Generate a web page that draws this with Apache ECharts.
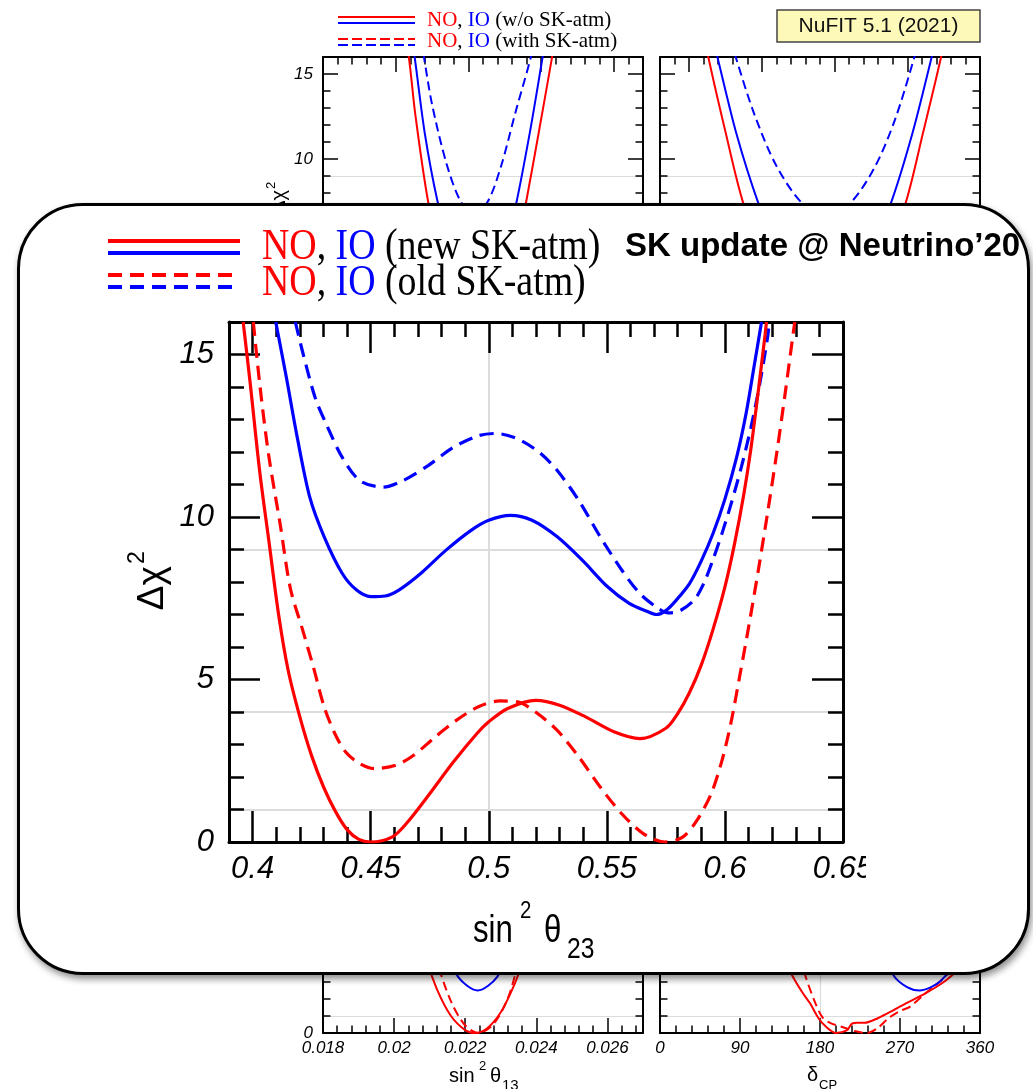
<!DOCTYPE html>
<html>
<head>
<meta charset="utf-8">
<script src="https://cdn.jsdelivr.net/npm/echarts@6/dist/echarts.min.js"></script>
<style>
  html, body { margin: 0; padding: 0; background: #fff; }
  #page { position: relative; width: 1033px; height: 1089px; overflow: hidden; }
  #back, #main { position: absolute; left: 0; top: 0; width: 1033px; height: 1089px; }
  #back { z-index: 0; }
  #box {
    position: absolute; left: 17px; top: 203px; width: 1013px; height: 772px;
    box-sizing: border-box; border: 3px solid #000; border-radius: 66px;
    background: #fff; box-shadow: 2px 4px 7px rgba(0, 0, 0, 0.45); z-index: 1;
  }
  #main { z-index: 2; }
</style>
</head>
<body>
<div id="page">
  <div id="back"></div>
  <div id="box"></div>
  <div id="main"></div>
</div>
<script>
// ---- main panel: delta chi^2 vs sin^2 theta23 ----
const mainXTicks = [0.4, 0.45, 0.5, 0.55, 0.6, 0.65];
const mainYTicks = [0, 5, 10, 15];
const chiGrid = [1, 4, 9];

// NO, new SK-atm (red solid)
const noNew = [[0.396, 16.0], [0.399, 14.1], [0.403, 11.4], [0.407, 9.2], [0.411, 7.0], [0.415, 5.3],
  [0.420, 3.85], [0.425, 2.65], [0.430, 1.7], [0.435, 0.95], [0.440, 0.38], [0.445, 0.08], [0.450, 0.0],
  [0.459, 0.15], [0.465, 0.56], [0.474, 1.39], [0.485, 2.46], [0.495, 3.34], [0.500, 3.70],
  [0.508, 4.11], [0.520, 4.36], [0.530, 4.21], [0.541, 3.85], [0.553, 3.39], [0.564, 3.18],
  [0.575, 3.5], [0.580, 3.95], [0.585, 4.6], [0.590, 5.45], [0.595, 6.55], [0.600, 7.85],
  [0.604, 9.15], [0.608, 10.7], [0.611, 12.1], [0.614, 13.8], [0.617, 15.6], [0.6176, 16.0]];
// NO, old SK-atm (red dashed)
const noOld = [[0.4003, 16.0], [0.403, 14.1], [0.4067, 11.95], [0.4117, 9.76], [0.416, 7.8], [0.4212, 6.52],
  [0.4257, 5.39], [0.4303, 4.16], [0.4348, 3.34], [0.4394, 2.77], [0.4454, 2.41], [0.4515, 2.26],
  [0.4606, 2.36], [0.4682, 2.67], [0.4773, 3.23], [0.4864, 3.75], [0.4956, 4.16], [0.5047, 4.34],
  [0.5123, 4.31], [0.5198, 4.0], [0.5289, 3.44], [0.5381, 2.62], [0.5472, 1.69], [0.5563, 0.87],
  [0.5654, 0.26], [0.5745, 0.0], [0.5821, 0.15], [0.5882, 0.67], [0.5942, 1.49], [0.5988, 2.52],
  [0.6025, 3.65], [0.606, 5.0], [0.610, 6.6], [0.614, 8.3], [0.618, 10.1], [0.622, 12.0],
  [0.6255, 13.8], [0.629, 15.7], [0.6296, 16.0]];
// IO, new SK-atm (blue solid)
const ioNew = [[0.4098, 16.0], [0.4143, 14.29], [0.4189, 12.45], [0.4242, 10.61], [0.4303, 9.39],
  [0.4379, 8.27], [0.4439, 7.76], [0.450, 7.55], [0.4561, 7.57], [0.4621, 7.76], [0.4713, 8.27],
  [0.4819, 8.98], [0.4925, 9.59], [0.500, 9.9], [0.5092, 10.05], [0.5183, 9.9], [0.529, 9.39],
  [0.5396, 8.67], [0.5502, 7.86], [0.5593, 7.35], [0.5669, 7.1], [0.571, 7.0], [0.575, 7.12],
  [0.5795, 7.45], [0.585, 7.95], [0.590, 8.65], [0.595, 9.5], [0.600, 10.55], [0.605, 11.85],
  [0.609, 13.2], [0.6125, 14.7], [0.6155, 16.0]];
// IO, old SK-atm (blue dashed)
const ioOld = [[0.4181, 16.0], [0.4211, 15.1], [0.4265, 13.67], [0.4318, 12.76], [0.4379, 11.84],
  [0.4454, 11.12], [0.4553, 10.92], [0.4637, 11.12], [0.4743, 11.58], [0.4849, 12.14], [0.4956, 12.5],
  [0.5031, 12.57], [0.5123, 12.4], [0.5214, 11.99], [0.529, 11.43], [0.5381, 10.51], [0.5472, 9.39],
  [0.5563, 8.37], [0.5639, 7.65], [0.5715, 7.2], [0.576, 7.05], [0.5806, 7.1], [0.587, 7.45],
  [0.591, 7.95], [0.595, 8.7], [0.599, 9.55], [0.603, 10.5], [0.607, 11.55], [0.611, 12.75],
  [0.6145, 14.0], [0.618, 15.5], [0.6188, 16.0]];

// ---- background panels (NuFIT 5.1 figure) ----
const bgYTicks = [0, 5, 10, 15];
const tlXTicks = [0, 1, 2, 3, 4];
const trXTicks = [0.4, 1.4, 2.4, 3.4, 4.4];
const blXTicks = [0.018, 0.02, 0.022, 0.024, 0.026];
const brXTicks = [0, 90, 180, 270, 360];

const tlNO = [[1.12, 17.2], [1.18, 16.0], [1.27, 12.6], [1.45, 7.4], [1.65, 4.0], [1.87, 1.2], [2.14, 0],
  [2.41, 1.2], [2.63, 4.0], [2.79, 7.4], [3.01, 12.6], [3.15, 16.0], [3.2, 17.2]];
const tlIO = [[1.22, 17.0], [1.26, 16.0], [1.40, 11.5], [1.57, 7.6], [1.75, 4.7], [1.95, 2.75], [2.12, 2.23],
  [2.30, 2.8], [2.50, 4.8], [2.65, 7.25], [2.85, 11.7], [3.02, 16.0], [3.06, 17.0]];
const tlIOOld = [[1.35, 17.0], [1.388, 16.0], [1.5, 13.2], [1.7, 9.7], [1.9, 7.45], [2.08, 6.9],
  [2.26, 7.45], [2.45, 9.6], [2.65, 12.8], [2.859, 16.0], [2.9, 17.0]];

const trNO = [[0.60, 17.5], [0.664, 16.0], [0.90, 11.6], [1.146, 7.39], [1.45, 4.1], [1.8, 1.3], [2.26, 0],
  [2.72, 1.3], [3.07, 4.1], [3.376, 7.39], [3.62, 11.6], [3.865, 16.0], [3.92, 17.3]];
const trIO = [[0.73, 17.0], [0.789, 16.0], [1.05, 11.5], [1.353, 7.39], [1.6, 4.85], [1.9, 2.9], [2.26, 2.06],
  [2.62, 2.9], [2.92, 4.85], [3.174, 7.39], [3.47, 11.5], [3.736, 16.0], [3.79, 17.0]];
const trIOOld = [[0.98, 17.0], [1.041, 16.0], [1.3, 12.6], [1.6, 9.6], [1.957, 7.39], [2.28, 6.73],
  [2.611, 7.39], [2.95, 9.5], [3.23, 12.3], [3.498, 16.0], [3.55, 17.0]];

const blNO = [[0.0206, 6.0], [0.0208, 4.9], [0.0212, 2.6], [0.0216, 1.0], [0.0220, 0.17], [0.02227, 0],
  [0.0226, 0.25], [0.0230, 1.22], [0.0234, 2.94], [0.0237, 4.66], [0.0239, 6.0]];
const blNOOld = [[0.0210, 6.2], [0.0212, 4.25], [0.0216, 1.86], [0.0220, 0.44], [0.02238, 0],
  [0.0228, 0.54], [0.0232, 2.05], [0.0235, 4.2], [0.0237, 6.0]];
const blIO = [[0.0212, 6.2], [0.0214, 5.28], [0.0218, 3.3], [0.02235, 2.5], [0.0229, 3.3],
  [0.0233, 5.28], [0.0235, 6.2]];

const brNO = [[120, 6.5], [135, 4.9], [148, 3.46], [160, 2.4], [169, 1.73], [178, 0.9], [186.5, 0.38],
  [198, 0], [210, 0.15], [216, 0.55], [222, 0.6], [230, 0.6], [245, 0.87], [263, 1.35], [280, 1.83],
  [298, 2.31], [316, 2.88], [328, 3.37], [345, 4.2], [360, 5.0]];
const brNOOld = [[150, 6.0], [163, 3.46], [175, 1.73], [183, 0.9], [192, 0.58], [205, 0.35], [220, 0.1],
  [233, 0], [245, 0.3], [257, 0.87], [270, 1.3], [281, 1.54], [298, 2.31], [316, 3.08], [330, 3.8],
  [345, 4.7], [360, 5.6]];
const brIO = [[240, 6.5], [250, 5.0], [263, 3.37], [278, 2.7], [292, 2.5], [305, 2.7], [316, 3.08],
  [330, 3.9], [345, 5.0], [360, 6.3]];

const RED = '#ff0000';
const BLUE = '#0000ff';
const SANS = 'Liberation Sans';
const SERIF = 'Liberation Serif';

function steps(a, b, d) {
  const out = [];
  for (let k = 0; a + k * d <= b + d / 1000; k++) out.push(Math.round((a + k * d) * 1e6) / 1e6);
  return out;
}
function fmt(v) { return String(+(+v).toFixed(5)); }

// one framed panel with inside ticks on all four sides
function panel(opt, p) {
  const gi = opt.grid.length;
  opt.grid.push({ left: p.left, top: p.top, width: p.width, height: p.height, show: false });
  const line = { color: '#000', width: p.frame };
  const tick = { color: '#000', width: p.tickW };
  const label = { fontFamily: SANS, fontStyle: 'italic', fontSize: p.font, color: '#000', formatter: fmt };
  const xi = opt.xAxis.length, yi = opt.yAxis.length;
  ['bottom', 'top'].forEach(function (pos) {
    opt.xAxis.push({ gridIndex: gi, type: 'value', min: p.xMin, max: p.xMax, position: pos,
      axisLine: { show: true, onZero: false, lineStyle: line },
      axisTick: { show: true, inside: true, length: p.major, customValues: p.xMajor, lineStyle: tick },
      axisLabel: Object.assign({ show: pos === 'bottom' && p.xLabels, customValues: p.xMajor, margin: p.xMargin }, label),
      splitLine: { show: false } });
    opt.xAxis.push({ gridIndex: gi, type: 'value', min: p.xMin, max: p.xMax, position: pos,
      axisLine: { show: false, onZero: false },
      axisTick: { show: true, inside: true, length: p.minor, customValues: p.xMinor, lineStyle: tick },
      axisLabel: { show: false }, splitLine: { show: false } });
  });
  ['left', 'right'].forEach(function (pos) {
    opt.yAxis.push({ gridIndex: gi, type: 'value', min: p.yMin, max: p.yMax, position: pos,
      axisLine: { show: true, onZero: false, lineStyle: line },
      axisTick: { show: true, inside: true, length: p.major, customValues: p.yMajor, lineStyle: tick },
      axisLabel: Object.assign({ show: pos === 'left' && p.yLabels, customValues: p.yMajor, margin: p.yMargin }, label),
      splitLine: { show: false } });
    opt.yAxis.push({ gridIndex: gi, type: 'value', min: p.yMin, max: p.yMax, position: pos,
      axisLine: { show: false, onZero: false },
      axisTick: { show: true, inside: true, length: p.minor, customValues: p.yMinor, lineStyle: tick },
      axisLabel: { show: false }, splitLine: { show: false } });
  });
  const gridLine = { show: true, lineStyle: { color: '#dcdcdc', width: p.gridW } };
  if (p.xGrid.length) {
    opt.xAxis.push({ gridIndex: gi, type: 'value', min: p.xMin, max: p.xMax, z: -1,
      axisLine: { show: false, onZero: false }, axisTick: { show: false, customValues: p.xGrid },
      axisLabel: { show: false, customValues: p.xGrid }, splitLine: gridLine });
  }
  if (p.yGrid.length) {
    opt.yAxis.push({ gridIndex: gi, type: 'value', min: p.yMin, max: p.yMax, z: -1,
      axisLine: { show: false, onZero: false }, axisTick: { show: false, customValues: p.yGrid },
      axisLabel: { show: false, customValues: p.yGrid }, splitLine: gridLine });
  }
  return { x: xi, y: yi };
}

function curve(opt, ax, data, color, width, dash) {
  opt.series.push({ type: 'line', xAxisIndex: ax.x, yAxisIndex: ax.y, data: data,
    showSymbol: false, symbol: 'none', smooth: 0.3, silent: true, z: 3,
    lineStyle: { color: color, width: width, type: dash || 'solid' } });
}

function txt(x, y, text, size, extra) {
  const e = extra || {};
  return { type: 'text', x: x, y: y, scaleX: e.scaleX || 1, rotation: e.rotation || 0, z: 50,
    style: { text: text, fontFamily: e.family || SANS, fontSize: size, fontWeight: e.weight || 'normal',
      fontStyle: e.italic ? 'italic' : 'normal', fill: e.fill || '#000', align: e.align || 'left',
      verticalAlign: 'middle', rich: e.rich } };
}
function seg(x1, y1, x2, y2, color, width, dash) {
  return { type: 'line', z: 50, shape: { x1: x1, y1: y1, x2: x2, y2: y2 },
    style: { stroke: color, lineWidth: width, lineDash: dash || null } };
}

// ---------------- background figure ----------------
const back = { animation: false, grid: [], xAxis: [], yAxis: [], series: [], graphic: [] };
const bgStyle = { frame: 2, tickW: 1.5, major: 15, minor: 7.5, font: 17, gridW: 1.2,
  yMin: 0, yMax: 16, yMajor: bgYTicks, yMinor: steps(1, 16, 1), yGrid: chiGrid, xMargin: 7, yMargin: 10 };

const tl = panel(back, Object.assign({}, bgStyle, { left: 323, top: 57, width: 320, height: 272,
  xMin: 0, xMax: 4.4, xMajor: tlXTicks, xMinor: steps(0, 4.4, 0.2), xGrid: [], xLabels: false, yLabels: true }));
const tr = panel(back, Object.assign({}, bgStyle, { left: 660, top: 57, width: 320, height: 272,
  xMin: 0, xMax: 4.4, xMajor: trXTicks, xMinor: steps(0, 4.4, 0.2), xGrid: [], xLabels: false, yLabels: false }));
const bl = panel(back, Object.assign({}, bgStyle, { left: 323, top: 761, width: 320, height: 272,
  xMin: 0.018, xMax: 0.027, xMajor: blXTicks, xMinor: steps(0.018, 0.027, 0.0004), xGrid: [], xLabels: true, yLabels: true }));
const br = panel(back, Object.assign({}, bgStyle, { left: 660, top: 761, width: 320, height: 272,
  xMin: 0, xMax: 360, xMajor: brXTicks, xMinor: steps(0, 360, 18), xGrid: [180], xLabels: true, yLabels: false }));

const bgDash = [9, 5];
curve(back, tl, tlNO, RED, 2);
curve(back, tl, tlIO, BLUE, 2);
curve(back, tl, tlIOOld, BLUE, 2, bgDash);
curve(back, tr, trNO, RED, 2);
curve(back, tr, trIO, BLUE, 2);
curve(back, tr, trIOOld, BLUE, 2, bgDash);
curve(back, bl, blNO, RED, 2);
curve(back, bl, blNOOld, RED, 2, bgDash);
curve(back, bl, blIO, BLUE, 2);
curve(back, br, brNO, RED, 2);
curve(back, br, brNOOld, RED, 2, bgDash);
curve(back, br, brIO, BLUE, 2);

const serifRich = { r: { fill: RED, fontFamily: SERIF, fontSize: 21 }, b: { fill: BLUE, fontFamily: SERIF, fontSize: 21 } };
back.graphic = [
  seg(338, 17, 415, 17, RED, 2), seg(338, 23, 415, 23, BLUE, 2),
  seg(338, 39, 415, 39, RED, 2, [10, 4]), seg(338, 45, 415, 45, BLUE, 2, [10, 4]),
  txt(427, 20, '{r|NO}, {b|IO} (w/o SK-atm)', 21, { family: SERIF, rich: serifRich }),
  txt(427, 41, '{r|NO}, {b|IO} (with SK-atm)', 21, { family: SERIF, rich: serifRich }),
  { type: 'rect', z: 40, shape: { x: 777, y: 10, width: 203, height: 32 },
    style: { fill: '#fdf9b9', stroke: '#444', lineWidth: 1.5 } },
  txt(878.5, 26, 'NuFIT 5.1 (2021)', 21, { align: 'center', fill: '#111' }),
  { type: 'group', x: 279, y: 190, rotation: Math.PI / 2, z: 50, children: [
    txt(0, 0, 'Δχ', 20, { align: 'right' }), txt(1, -8, '2', 13) ] },
  txt(449, 1076, 'sin', 20), txt(479, 1066, '2', 13), txt(490, 1076, 'θ', 20), txt(502, 1086, '13', 15),
  txt(807, 1075, 'δ', 20), txt(819, 1085, 'CP', 13)
];

// ---------------- main (overlay) chart ----------------
const main = { animation: false, grid: [], xAxis: [], yAxis: [], series: [], graphic: [] };
const mp = panel(main, { left: 229, top: 322, width: 614, height: 520, frame: 3, tickW: 2.5,
  major: 31, minor: 15, font: 31, gridW: 2,
  xMin: 0.39, xMax: 0.65, xMajor: mainXTicks, xMinor: steps(0.40, 0.64, 0.01), xGrid: [0.5],
  yMin: 0, yMax: 16, yMajor: mainYTicks, yMinor: steps(1, 16, 1), yGrid: chiGrid,
  xLabels: true, yLabels: true, xMargin: 12, yMargin: 15 });

const mainDash = [14, 8];
curve(main, mp, noOld, RED, 3.2, mainDash);
curve(main, mp, ioOld, BLUE, 3.2, mainDash);
curve(main, mp, noNew, RED, 3.2);
curve(main, mp, ioNew, BLUE, 3.2);

const bigRich = { r: { fill: RED, fontFamily: SERIF, fontSize: 44 }, b: { fill: BLUE, fontFamily: SERIF, fontSize: 44 } };
main.graphic = [
  seg(108, 241, 240, 241, RED, 4), seg(108, 253, 240, 253, BLUE, 4),
  seg(108, 275, 240, 275, RED, 4, mainDash), seg(108, 287, 240, 287, BLUE, 4, mainDash),
  txt(262, 247, '{r|NO}, {b|IO} (new SK-atm)', 44, { family: SERIF, scaleX: 0.86, rich: bigRich }),
  txt(262, 283, '{r|NO}, {b|IO} (old SK-atm)', 44, { family: SERIF, scaleX: 0.86, rich: bigRich }),
  txt(625, 247, 'SK update @ Neutrino’20', 33, { weight: 'bold' }),
  { type: 'group', x: 153, y: 566, rotation: Math.PI / 2, z: 50, children: [
    txt(0, 0, 'Δχ', 37, { align: 'right' }), txt(2, -15, '2', 23) ] },
  txt(473, 932, 'sin', 38, { scaleX: 0.82 }), txt(520, 911, '2', 24, { scaleX: 0.85 }),
  txt(544, 932, 'θ', 38, { scaleX: 0.82 }), txt(567, 950, '23', 29, { scaleX: 0.85 }),
  { type: 'rect', z: 60, shape: { x: 866, y: 850, width: 40, height: 45 }, style: { fill: '#fff' } }
];

echarts.init(document.getElementById('back'), null, { renderer: 'canvas' }).setOption(back);
echarts.init(document.getElementById('main'), null, { renderer: 'canvas' }).setOption(main);
</script>
</body>
</html>
